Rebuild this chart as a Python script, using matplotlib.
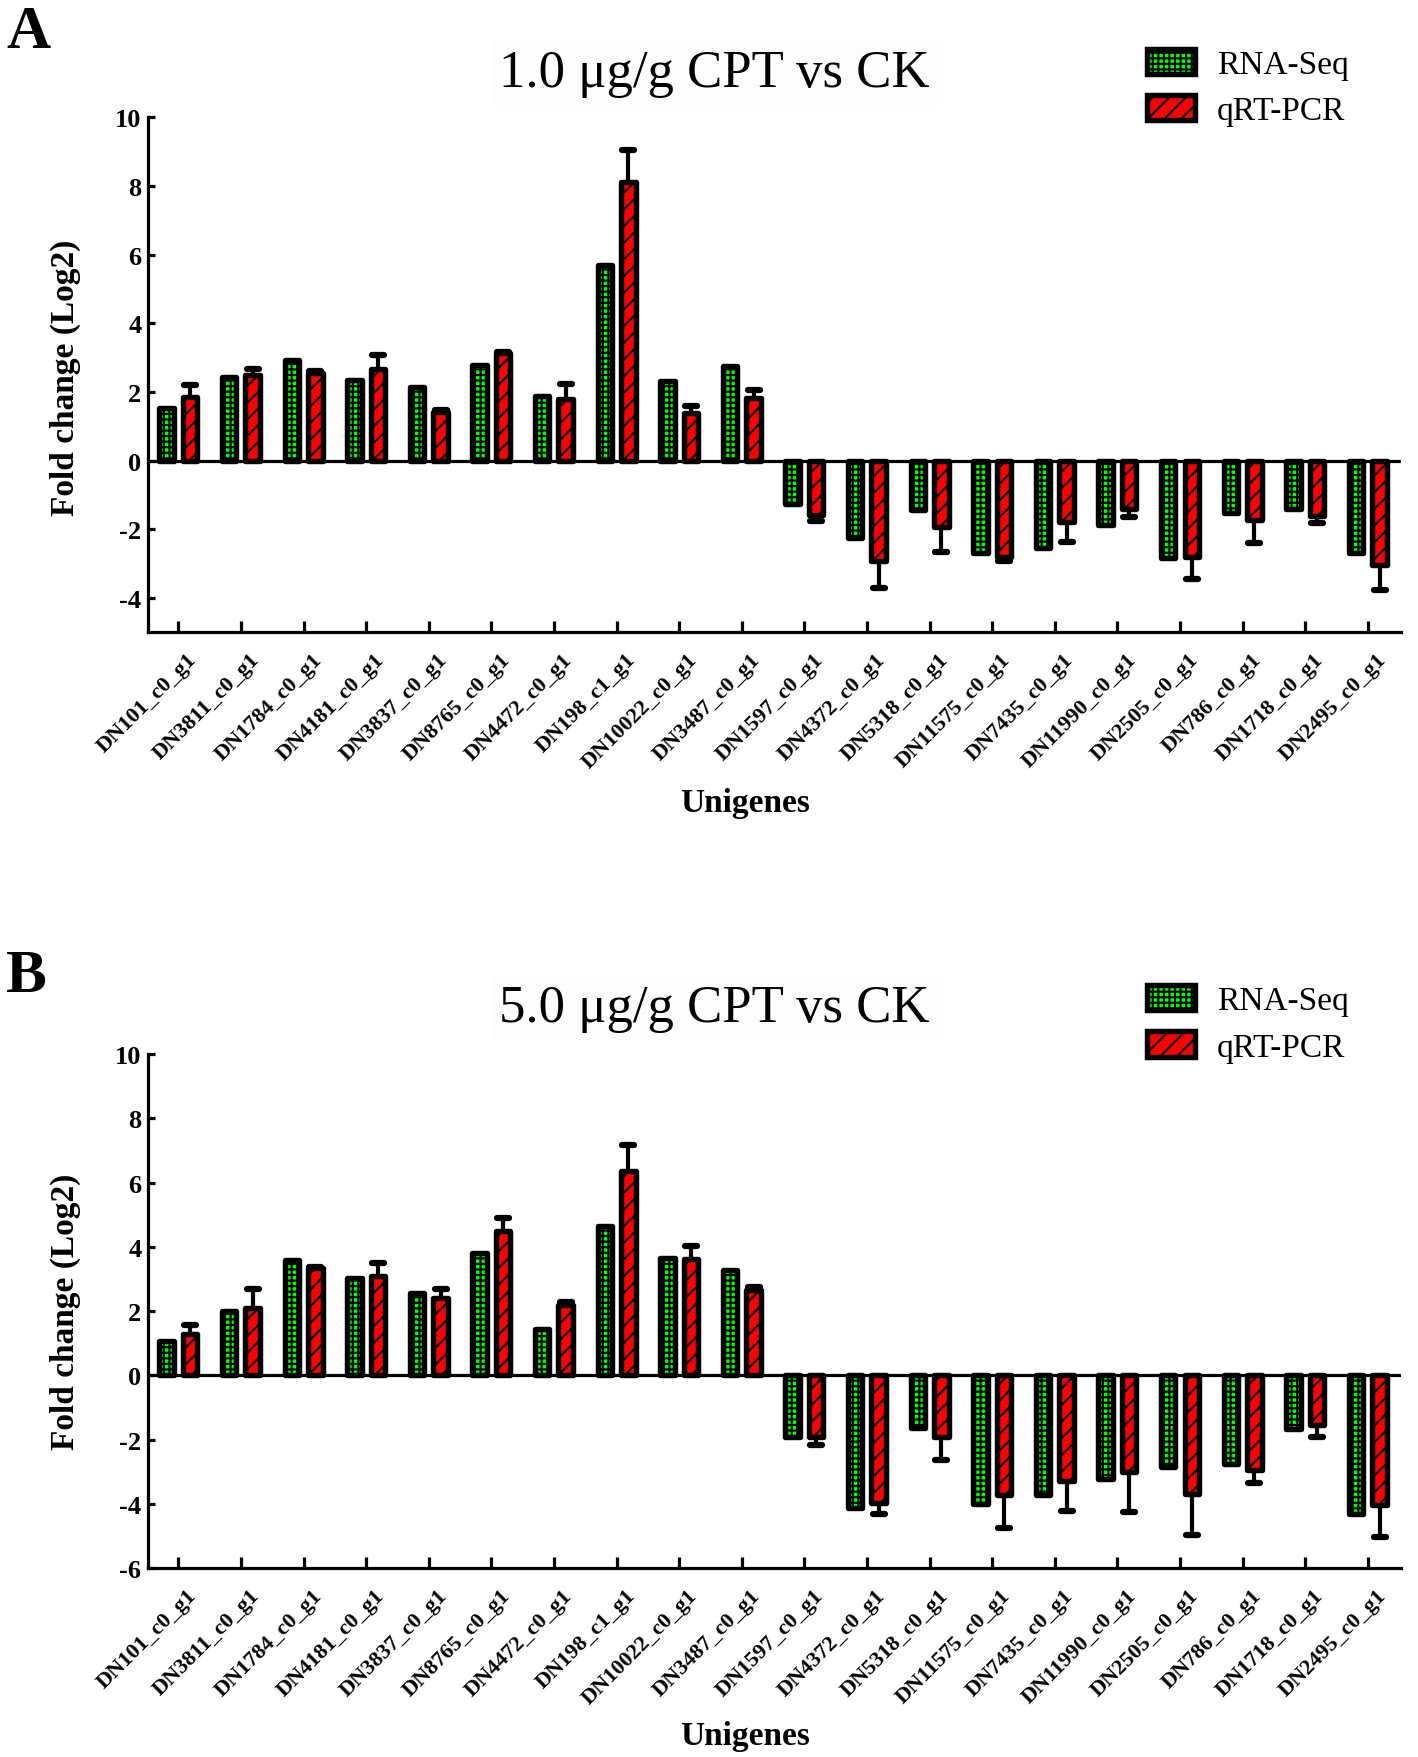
import matplotlib
matplotlib.use('Agg')
import matplotlib.pyplot as plt
import numpy as np
from matplotlib.markers import MarkerStyle
from matplotlib.transforms import ScaledTranslation

plt.rcParams['font.family'] = ['Liberation Serif', 'DejaVu Serif']
plt.rcParams['hatch.linewidth'] = 1.5
plt.rcParams['axes.unicode_minus'] = False

# gene ids (same order in both panels)
genes = ['DN101_c0_g1', 'DN3811_c0_g1', 'DN1784_c0_g1', 'DN4181_c0_g1', 'DN3837_c0_g1',
         'DN8765_c0_g1', 'DN4472_c0_g1', 'DN198_c1_g1', 'DN10022_c0_g1', 'DN3487_c0_g1',
         'DN1597_c0_g1', 'DN4372_c0_g1', 'DN5318_c0_g1', 'DN11575_c0_g1', 'DN7435_c0_g1',
         'DN11990_c0_g1', 'DN2505_c0_g1', 'DN786_c0_g1', 'DN1718_c0_g1', 'DN2495_c0_g1']

# panel A : 1.0 ug/g CPT vs CK
rna_a = [1.53, 2.45, 2.92, 2.35, 2.14, 2.80, 1.89, 5.71, 2.31, 2.75,
         -1.27, -2.26, -1.43, -2.68, -2.55, -1.87, -2.84, -1.51, -1.40, -2.68]
pcr_a = [1.86, 2.50, 2.56, 2.67, 1.42, 3.13, 1.79, 8.13, 1.40, 1.82,
         -1.58, -2.91, -1.93, -2.80, -1.79, -1.40, -2.81, -1.74, -1.61, -3.05]
err_a = [0.35, 0.17, 0.05, 0.42, 0.05, 0.05, 0.44, 0.93, 0.19, 0.25,
         0.17, 0.81, 0.72, 0.12, 0.57, 0.23, 0.64, 0.65, 0.19, 0.71]

# panel B : 5.0 ug/g CPT vs CK
rna_b = [1.07, 2.02, 3.59, 3.04, 2.55, 3.81, 1.44, 4.65, 3.66, 3.28,
         -1.92, -4.12, -1.63, -3.99, -3.71, -3.21, -2.85, -2.75, -1.66, -4.32]
pcr_b = [1.28, 2.10, 3.33, 3.10, 2.41, 4.50, 2.20, 6.36, 3.62, 2.65,
         -1.92, -3.97, -1.92, -3.73, -3.27, -3.00, -3.68, -2.93, -1.55, -4.04]
err_b = [0.30, 0.58, 0.05, 0.41, 0.29, 0.41, 0.08, 0.81, 0.41, 0.10,
         0.25, 0.34, 0.70, 1.02, 0.96, 1.25, 1.28, 0.42, 0.36, 0.97]

titles = ['1.0 μg/g CPT vs CK', '5.0 μg/g CPT vs CK']
ylims = [(-5, 10), (-6, 10)]

fig = plt.figure(figsize=(14.18, 17.58), dpi=100)


def draw_panel(rect, rna, pcr, err, ylim):
    ax = fig.add_axes(rect)
    x = np.arange(len(genes))
    off, w = 0.188, 0.232
    ax.axhline(0, color='k', lw=2.3, zorder=1)
    b1 = ax.bar(x - off, rna, w, color='#00ff00', edgecolor='k', linewidth=3.9,
                hatch='+++', joinstyle='round', zorder=3, label='RNA-Seq')
    b2 = ax.bar(x + off, pcr, w, color='#ff0000', edgecolor='k', linewidth=3.9,
                hatch='//', joinstyle='round', zorder=3, label='qRT-PCR')
    pcr = np.array(pcr)
    ends = pcr + np.sign(pcr) * np.array(err)
    ax.vlines(x + off, pcr, ends, color='k', lw=3.0, zorder=2)
    ax.plot(x + off, ends, ls='none', color='k',
            marker=MarkerStyle('_', capstyle='round'), ms=9, mew=4.5, zorder=2)
    ax.set_xlim(-0.48, 19.53)
    ax.set_ylim(*ylim)
    ax.set_yticks(np.arange(ylim[0] + (ylim[0] % 2), ylim[1] + 1, 2))
    for s in ['top', 'right']:
        ax.spines[s].set_visible(False)
    for s in ['left', 'bottom']:
        ax.spines[s].set_linewidth(2.3)
    ax.tick_params(axis='y', direction='in', length=5, width=2.3, labelsize=19, pad=5)
    ax.tick_params(axis='x', direction='in', length=8, width=2.3, labelsize=16, pad=12)
    ax.set_xticks(x)
    ax.set_xticklabels(genes, rotation=45, ha='right', va='top',
                       rotation_mode='anchor', fontweight='bold')
    for lab in ax.get_yticklabels():
        lab.set_fontweight('bold')
    for lab in ax.get_xticklabels():
        lab.set_transform(lab.get_transform() + ScaledTranslation(6 / 72, 0, fig.dpi_scale_trans))
    return ax, b1, b2


panels = [
    ([0.1046, 0.6397, 0.8834, 0.2930], rna_a, pcr_a, err_a),
    ([0.1046, 0.1073, 0.8834, 0.2926], rna_b, pcr_b, err_b),
]
letter_y = [0.9727, 0.4357]
title_y = [0.9503, 0.4186]
ylab_y = [0.785, 0.254]
xlab_y = [0.5432, 0.012]
leg_y = [0.9718, 0.4392]

for i, (rect, rna, pcr, err) in enumerate(panels):
    ax, b1, b2 = draw_panel(rect, rna, pcr, err, ylims[i])
    fig.text(0.0042, letter_y[i], 'AB'[i], fontsize=44, fontweight='bold', va='baseline')
    fig.text(0.504, title_y[i], titles[i], fontsize=38, ha='center', va='baseline',
             bbox=dict(facecolor='#fdfdfd', edgecolor='none', pad=6))
    fig.text(0.0458, ylab_y[i], 'Fold change (Log2)', fontsize=24, fontweight='bold',
             rotation=90, ha='center', va='center')
    fig.text(0.5254, xlab_y[i], 'Unigenes', fontsize=24, fontweight='bold',
             ha='center', va='center')
    ax.legend(handles=[b1, b2], loc='upper left', bbox_to_anchor=(0.8087, leg_y[i]),
              bbox_transform=fig.transFigure, frameon=False, fontsize=24,
              handlelength=1.45, handleheight=0.8, handletextpad=0.65,
              labelspacing=0.45, borderpad=0, borderaxespad=0)

fig.savefig('out.png', dpi=100)
